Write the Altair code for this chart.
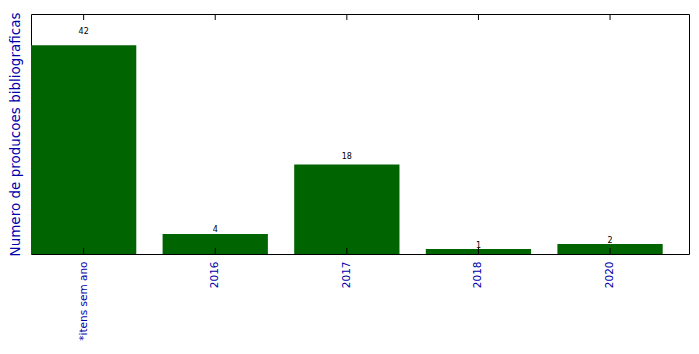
import altair as alt
import pandas as pd

categories = ["*itens sem ano", "2016", "2017", "2018", "2020"]
values = [42, 4, 18, 1, 2]
y_max = 48.3

df = pd.DataFrame({"cat": categories, "val": values})

FONT = "DejaVu Sans"
BLUE = "#0000aa"
GREEN = "#006400"

x_enc = alt.X(
    "cat:N",
    sort=categories,
    scale=alt.Scale(paddingInner=0.2, paddingOuter=0.1, align=0),
    axis=alt.Axis(
        title=None, labelAngle=270, labelColor=BLUE, labelFontSize=10.5,
        labelFont=FONT, labelPadding=7, ticks=False, domain=False,
        labelAlign="right", labelBaseline="middle", grid=False,
    ),
)
y_scale = alt.Scale(domain=[0, y_max], nice=False, zero=True)

bars = alt.Chart(df).mark_bar(color=GREEN).encode(
    x=x_enc,
    y=alt.Y(
        "val:Q", scale=y_scale,
        axis=alt.Axis(
            title="Numero de producoes bibliograficas", labels=False,
            ticks=False, domain=False, grid=False, titleColor=BLUE,
            titleFont=FONT, titleFontSize=13.5, titleFontWeight="normal",
            titlePadding=9,
        ),
    ),
)

labels = alt.Chart(df).transform_calculate(
    ypos="datum.val * 1.05"
).mark_text(baseline="bottom", fontSize=8, font=FONT, color="black", dy=1).encode(
    x=alt.X("cat:N", sort=categories),
    y=alt.Y("ypos:Q", scale=y_scale),
    text="val:Q",
)

ticks_bottom = alt.Chart(df).mark_rule(
    color="black", strokeWidth=1, y2Offset=-6
).encode(
    x=alt.X("cat:N", sort=categories, bandPosition=0.5),
    y=alt.datum(0), y2=alt.datum(0),
)

ticks_top = alt.Chart(df).mark_rule(
    color="black", strokeWidth=1, y2Offset=6
).encode(
    x=alt.X("cat:N", sort=categories, bandPosition=0.5),
    y=alt.datum(y_max), y2=alt.datum(y_max),
)

chart = alt.layer(bars, labels, ticks_bottom, ticks_top).properties(
    width=658, height=240,
    background="white",
    autosize=alt.AutoSizeParams(type="none"),
    padding={"left": 31, "top": 14, "right": 10, "bottom": 100},
).configure_view(
    stroke="black", strokeWidth=1
)

chart.save("out.html", embed_options={"renderer": "svg", "actions": False})
